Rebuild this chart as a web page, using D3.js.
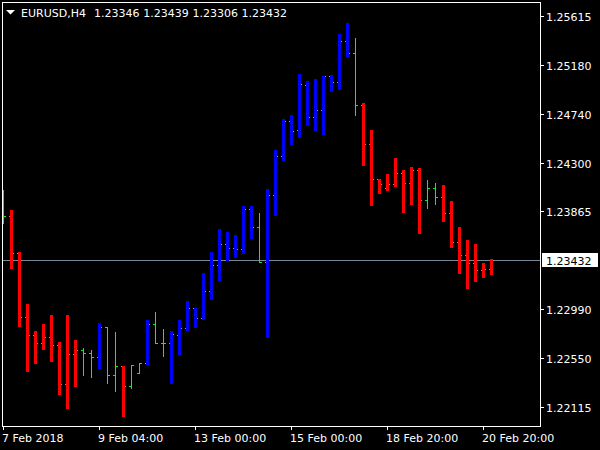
<!DOCTYPE html>
<html>
<head>
<meta charset="utf-8">
<script src="https://cdn.jsdelivr.net/npm/d3@7"></script>
<style>
html,body{margin:0;padding:0;background:#000;}
svg{display:block;}
text{font-family:"DejaVu Sans",sans-serif;font-size:11px;}
</style>
</head>
<body>
<script>
const symbol = "EURUSD,H4";
const opens = [1.23966,1.23823,1.23491,1.22921,1.22754,1.22682,1.22739,1.22667,1.22318,1.22584,
1.22620,1.22593,1.22557,1.22828,1.22396,1.22476,1.22297,1.22419,1.22509,1.22855,
1.22682,1.22682,1.22757,1.22819,1.22996,1.22906,1.23148,1.23381,1.23569,1.23534,
1.23525,1.23883,1.23722,1.23408,1.24011,1.24358,1.24672,1.24591,1.24994,1.24707,
1.24770,1.25075,1.25026,1.25388,1.25281,1.24815,1.24465,1.24152,1.24071,1.24107,
1.24206,1.24116,1.24232,1.23964,1.24071,1.23991,1.23847,1.23587,1.23471,1.23399,
1.23336,1.23346];
const highs = [1.24056,1.23877,1.23500,1.23035,1.22793,1.22855,1.22936,1.22694,1.22936,1.22712,
1.22638,1.22622,1.22864,1.22828,1.22784,1.22479,1.22491,1.22509,1.22891,1.22960,
1.22811,1.22793,1.22891,1.23061,1.23001,1.23312,1.23500,1.23707,1.23680,1.23653,
1.23913,1.23913,1.23850,1.24065,1.24414,1.24692,1.24728,1.25095,1.25033,1.25051,
1.25077,1.25084,1.25454,1.25552,1.25418,1.24835,1.24594,1.24155,1.24199,1.24343,
1.24235,1.24262,1.24253,1.24146,1.24119,1.24101,1.23957,1.23724,1.23608,1.23572,
1.23402,1.23439];
const lows = [1.23763,1.23360,1.22840,1.22437,1.22509,1.22634,1.22524,1.22231,1.22103,1.22303,
1.22401,1.22383,1.22464,1.22329,1.22258,1.22034,1.22279,1.22419,1.22500,1.22682,
1.22571,1.22327,1.22587,1.22802,1.22826,1.22900,1.23079,1.23252,1.23429,1.23456,
1.23491,1.23629,1.23408,1.22739,1.23832,1.24327,1.24471,1.24531,1.24638,1.24596,
1.24560,1.24943,1.24961,1.25257,1.24731,1.24280,1.23922,1.24029,1.24059,1.24094,
1.23862,1.23933,1.23671,1.23897,1.23933,1.23781,1.23548,1.23315,1.23181,1.23243,
1.23279,1.23306];
const closes = [1.23823,1.23491,1.22921,1.22754,1.22682,1.22739,1.22667,1.22318,1.22584,1.22620,
1.22593,1.22557,1.22828,1.22396,1.22476,1.22297,1.22488,1.22509,1.22853,1.22682,
1.22682,1.22766,1.22819,1.22996,1.22906,1.23148,1.23381,1.23569,1.23534,1.23525,
1.23883,1.23722,1.23408,1.24011,1.24358,1.24672,1.24585,1.25003,1.24707,1.24770,
1.25075,1.25026,1.25388,1.25281,1.24815,1.24465,1.24152,1.24107,1.24107,1.24206,
1.24116,1.24232,1.23964,1.24071,1.23991,1.23847,1.23587,1.23471,1.23399,1.23336,
1.23346,1.23432];
// r = red histogram, b = blue histogram, g = plain bar
const signals = "grrrrrrrrrggbggrggbggbbbbbbbbbbbgbbbbbbbbbbbgrrrrrrrrggrrrrrrr".split("");
const priceTicks = [1.25615,1.25180,1.24740,1.24300,1.23865,1.22990,1.22550,1.22115];
const currentPrice = 1.23432;
const timeTickIndex = [0,12,24,36,48,60];
const timeTickLabels = ["7 Feb 2018","9 Feb 04:00","13 Feb 00:00","15 Feb 00:00","18 Feb 20:00","20 Feb 20:00"];

const W = 600, H = 450;
const plot = {left:2, top:2, right:540, bottom:426};
const bars = opens.map((o,i)=>({i,o,h:highs[i],l:lows[i],c:closes[i],s:signals[i]}));

const x = d3.scaleLinear().domain([0, bars.length-1]).range([3, 3 + 8*(bars.length-1)]);
const y = d3.scaleLinear().domain([1.22115, 1.25615]).range([406.7, 16]);
const Y = v => Math.round(y(v));

const svg = d3.select("body").append("svg").attr("width",W).attr("height",H);
svg.append("rect").attr("width",W).attr("height",H).attr("fill","#000");

svg.append("defs").append("clipPath").attr("id","clip")
  .append("rect").attr("x",plot.left+1).attr("y",plot.top+1)
  .attr("width",plot.right-plot.left-1).attr("height",plot.bottom-plot.top-1);

const g = svg.append("g").attr("clip-path","url(#clip)");

// current price line
g.append("line").attr("x1",plot.left).attr("x2",plot.right)
  .attr("y1",Y(currentPrice)+0.5).attr("y2",Y(currentPrice)+0.5)
  .attr("stroke","#778899").attr("stroke-width",1);

const lime = "#00ff00";
const bg = g.selectAll("g.bar").data(bars).join("g").attr("class","bar");
bg.append("line")
  .attr("x1",d=>x(d.i)+0.5).attr("x2",d=>x(d.i)+0.5)
  .attr("y1",d=>Y(d.h)).attr("y2",d=>Y(d.l)+1)
  .attr("stroke",lime).attr("stroke-width",1);
bg.append("line")
  .attr("x1",d=>x(d.i)-2).attr("x2",d=>x(d.i)+1)
  .attr("y1",d=>Y(d.o)+0.5).attr("y2",d=>Y(d.o)+0.5)
  .attr("stroke",lime).attr("stroke-width",1);
bg.append("line")
  .attr("x1",d=>x(d.i)).attr("x2",d=>x(d.i)+3)
  .attr("y1",d=>Y(d.c)+0.5).attr("y2",d=>Y(d.c)+0.5)
  .attr("stroke",lime).attr("stroke-width",1);

const colorMap = {r:"#ff0000", b:"#0000ff"};
g.selectAll("rect.hist").data(bars.filter(d=>d.s!=="g")).join("rect").attr("class","hist")
  .attr("x",d=>x(d.i)-1).attr("width",3)
  .attr("y",d=>Y(d.h)).attr("height",d=>Y(d.l)-Y(d.h)+1)
  .attr("fill",d=>colorMap[d.s]);

// frame
svg.append("rect").attr("x",plot.left+0.5).attr("y",plot.top+0.5)
  .attr("width",plot.right-plot.left).attr("height",plot.bottom-plot.top)
  .attr("fill","none").attr("stroke","#fff").attr("stroke-width",1);

// right price axis
const ra = svg.append("g");
priceTicks.forEach(v=>{
  const yy = Y(v);
  ra.append("line").attr("x1",plot.right+1).attr("x2",plot.right+4)
    .attr("y1",yy+0.5).attr("y2",yy+0.5).attr("stroke","#fff");
  ra.append("text").attr("x",546).attr("y",yy+4.5).attr("fill","#fff").text(d3.format(".5f")(v));
});
// current price box
const cy = Y(currentPrice);
ra.append("rect").attr("x",542).attr("y",cy-7).attr("width",56).attr("height",14).attr("fill","#fff");
ra.append("text").attr("x",546).attr("y",cy+4.5).attr("fill","#000").text(d3.format(".5f")(currentPrice));

// bottom time axis
const ta = svg.append("g");
timeTickIndex.forEach((idx,k)=>{
  const xx = Math.round(x(idx));
  ta.append("line").attr("x1",xx+0.5).attr("x2",xx+0.5)
    .attr("y1",plot.bottom+1).attr("y2",plot.bottom+4).attr("stroke","#fff");
  ta.append("text").attr("x",xx-1).attr("y",442).attr("fill","#fff").text(timeTickLabels[k]);
});

// header
const last = bars[bars.length-1];
svg.append("path").attr("d","M6,10L15,10L10.5,14.5Z").attr("fill","#fff");
svg.append("text").attr("x",21).attr("y",17).attr("fill","#fff").text(symbol);
[last.o,last.h,last.l,last.c].forEach((v,k)=>{
  svg.append("text").attr("x",94+49.2*k).attr("y",17).attr("fill","#fff").text(d3.format(".5f")(v));
});
</script>
</body>
</html>
